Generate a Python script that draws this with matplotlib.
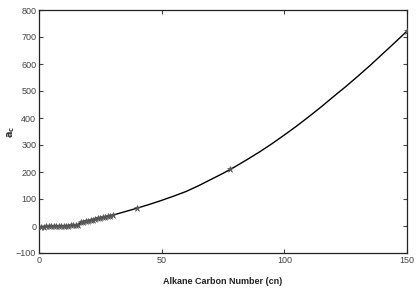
import matplotlib
matplotlib.use("Agg")
import matplotlib.pyplot as plt

plt.rcParams["font.family"] = ["Liberation Sans", "DejaVu Sans"]

# data
cn_pts = list(range(1, 31)) + [40, 78, 150]
a_pts = [-2, -2, -1, -1, -1, 0, 0, 0, 0, 1, 1, 1, 2, 2, 2, 3,
         14, 16, 18, 20, 22, 24, 26, 28, 30, 32, 34, 36, 38, 40,
         65, 211, 722]

# fitted curve (read at regular cn steps)
cn_fit = [35, 40, 45, 50, 55, 60, 65, 70, 75, 80, 85, 90, 95, 100,
          105, 110, 115, 120, 125, 130, 135, 140, 145, 150]
a_fit = [53, 66, 80, 95, 111, 128, 149, 172, 195, 220, 247, 275, 305, 337,
         370, 405, 441, 479, 516, 555, 595, 637, 679, 722]

x_ticks = [0, 50, 100, 150]
y_ticks = list(range(-100, 801, 100))

fig = plt.figure(figsize=(4.19, 2.89), dpi=100)
ax = fig.add_axes([39 / 419, 1 - 253 / 289, 368 / 419, 243 / 289])

ax.plot(cn_pts[:30] + cn_fit, a_pts[:30] + a_fit, color="black", lw=1.0, zorder=2)
ax.plot(cn_pts, a_pts, ls="none", marker="*", ms=4.5, color="#555555", mew=0.4, zorder=3)

ax.set_xlim(0, 150)
ax.set_ylim(-100, 800)
ax.set_xticks(x_ticks)
ax.set_yticks(y_ticks)
ax.tick_params(direction="in", length=3, width=0.8, labelsize=6.5, labelcolor="#444444",
               color="#444444", top=True, right=True, pad=2)
for s in ax.spines.values():
    s.set_linewidth(0.9)
    s.set_color("#222222")

ax.set_xlabel("Alkane Carbon Number (cn)", fontsize=6.5, fontweight="bold", labelpad=9,
              color="#222222")
ax.set_ylabel("$\\mathbf{a_c}$", fontsize=7, color="#333333")
ax.yaxis.set_label_coords(-0.06, 0.5)

fig.savefig("out.png", dpi=100)
